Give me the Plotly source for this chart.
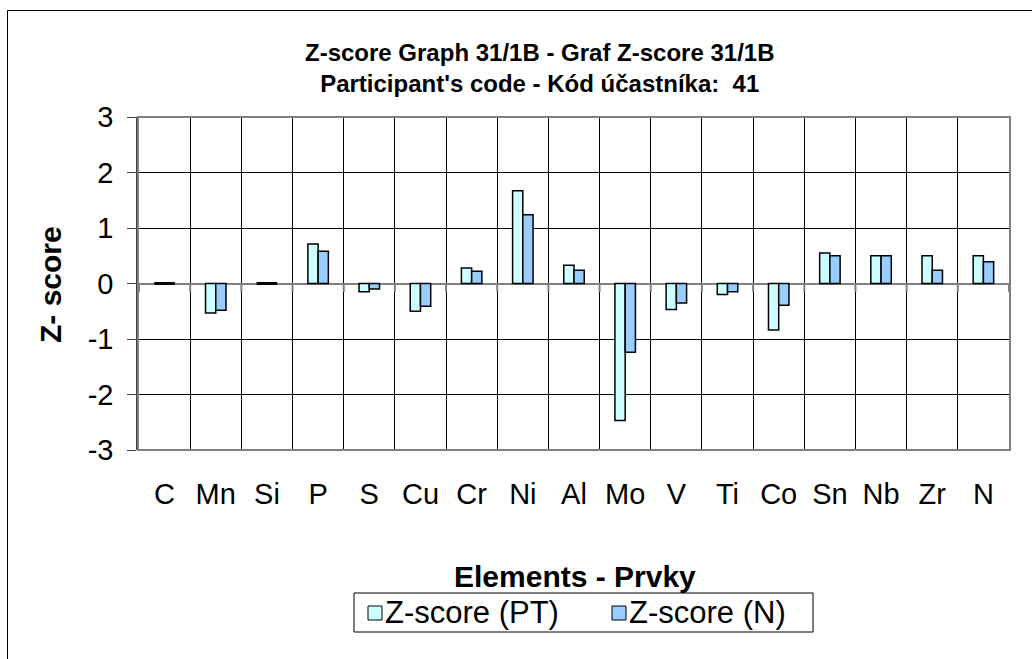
import plotly.graph_objects as go

# Elements and their z-scores
elements = ["C", "Mn", "Si", "P", "S", "Cu", "Cr", "Ni", "Al", "Mo",
            "V", "Ti", "Co", "Sn", "Nb", "Zr", "N"]
z_pt = [0.0, -0.53, 0.0, 0.71, -0.15, -0.50, 0.28, 1.67, 0.33, -2.47,
        -0.47, -0.20, -0.84, 0.55, 0.50, 0.50, 0.50]
z_n = [0.0, -0.48, 0.0, 0.58, -0.10, -0.41, 0.22, 1.24, 0.24, -1.24,
       -0.35, -0.15, -0.39, 0.50, 0.50, 0.24, 0.39]
y_ticks = [3, 2, 1, 0, -1, -2, -3]

series = [("Z-score (PT)", z_pt, "#CCFFFF"), ("Z-score (N)", z_n, "#99CCFF")]

FONT = "Liberation Sans, Arial, sans-serif"
BAR_GAP = 0.6

# Plot-area geometry in pixels (used to place paper-referenced decorations)
W, H = 1032, 659
L, R, T, B = 138, 1010, 117, 450
PW, PH = R - L, B - T


def px_x(px):
    return (px - L) / PW


def px_y(py):
    return (B - py) / PH


fig = go.Figure()
for name, vals, color in series:
    fig.add_trace(go.Bar(
        x=elements, y=vals, name=name, showlegend=False,
        marker=dict(color=color, line=dict(color="#000000", width=1.5)),
    ))

shapes = []
# zero-height bars still show their outline as a flat black stroke
half = (1 - BAR_GAP) / 2
for i, (a, b) in enumerate(zip(z_pt, z_n)):
    if a == 0 and b == 0:
        shapes.append(dict(type="line", xref="x", yref="y",
                           x0=i - half, x1=i + half, y0=0, y1=0,
                           line=dict(color="#000000", width=3), layer="above"))
# small tick marks where the category axis crosses zero
for i in range(len(elements) + 1):
    shapes.append(dict(type="line", xref="x", yref="y",
                       x0=i - 0.5, x1=i - 0.5, y0=0, y1=-0.15,
                       line=dict(color="#808080", width=2)))
# plot-area border
shapes.append(dict(type="rect", xref="paper", yref="paper",
                   x0=0, x1=1, y0=0, y1=1,
                   line=dict(color="#808080", width=2), layer="above"))
# outer chart border
shapes.append(dict(type="rect", xref="paper", yref="paper",
                   x0=px_x(7.5), x1=px_x(1060), y0=px_y(690), y1=px_y(10.5),
                   line=dict(color="#000000", width=1)))

annotations = [
    dict(text="<b>Z-score Graph 31/1B - Graf Z-score 31/1B</b><br>"
              "<b>Participant's code - Kód účastníka:  41</b>",
         xref="paper", yref="paper", x=px_x(540), y=px_y(68),
         xanchor="center", yanchor="middle", showarrow=False,
         font=dict(family=FONT, size=24, color="#000000")),
    dict(text="<b>Elements - Prvky</b>", xref="paper", yref="paper",
         x=px_x(575), y=px_y(576), xanchor="center", yanchor="middle",
         showarrow=False, font=dict(family=FONT, size=30, color="#000000")),
    dict(text="<b>Z- score</b>", xref="paper", yref="paper",
         x=px_x(50), y=px_y(285), xanchor="center", yanchor="middle",
         textangle=-90, showarrow=False,
         font=dict(family=FONT, size=30, color="#000000")),
]

# legend box with a square swatch right before each series name
shapes.append(dict(type="rect", xref="paper", yref="paper",
                   x0=px_x(354), x1=px_x(813), y0=px_y(632), y1=px_y(593),
                   line=dict(color="#000000", width=1), fillcolor="#FFFFFF"))
for (name, _, color), sx in zip(series, [368, 612]):
    shapes.append(dict(type="rect", xref="paper", yref="paper",
                       x0=px_x(sx), x1=px_x(sx + 14),
                       y0=px_y(620), y1=px_y(606),
                       line=dict(color="#000000", width=1), fillcolor=color))
    annotations.append(dict(text=name, xref="paper", yref="paper",
                            x=px_x(sx + 15), y=px_y(612.5),
                            xanchor="left", yanchor="middle", showarrow=False,
                            font=dict(family=FONT, size=31, color="#000000")))

fig.update_layout(
    width=W, height=H,
    margin=dict(l=L, r=W - R, t=T, b=H - B),
    paper_bgcolor="#FFFFFF", plot_bgcolor="#FFFFFF",
    font=dict(family=FONT, color="#000000"),
    barmode="group", bargap=BAR_GAP, bargroupgap=0,
    shapes=shapes, annotations=annotations,
    xaxis=dict(type="category", tickson="boundaries", showgrid=True,
               gridcolor="#000000", gridwidth=1,
               ticks="", ticklabelstandoff=24,
               tickfont=dict(family=FONT, size=29, color="#000000"),
               showline=False, zeroline=False),
    yaxis=dict(range=[-3, 3], tickvals=y_ticks, ticktext=[str(v) for v in y_ticks],
               showgrid=True, gridcolor="#000000", gridwidth=1,
               zeroline=True, zerolinecolor="#808080", zerolinewidth=2,
               ticks="outside", ticklen=9, tickcolor="#404040",
               ticklabelstandoff=8,
               showline=True, linecolor="#404040", linewidth=1.5,
               tickfont=dict(family=FONT, size=29, color="#000000")),
)

fig.write_html("out.html")
